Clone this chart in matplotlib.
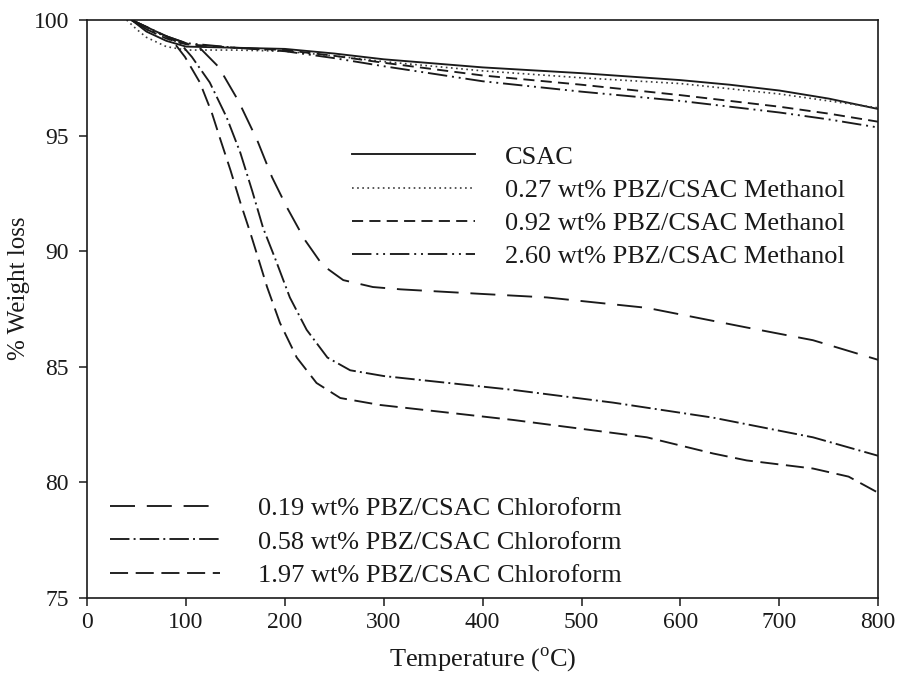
import matplotlib
matplotlib.use("Agg")
import matplotlib.pyplot as plt

plt.rcParams['font.family'] = ['Liberation Serif', 'DejaVu Serif']
plt.rcParams['mathtext.fontset'] = 'custom'
plt.rcParams['mathtext.rm'] = 'Liberation Serif'
plt.rcParams['lines.scale_dashes'] = False

# TGA curves, temperature (C) vs remaining weight (%)
t_csac = [45, 60, 80, 100, 150, 200, 250, 300, 400, 500, 600, 650, 700, 750, 800]
w_csac = [100, 99.5, 99.1, 98.85, 98.8, 98.75, 98.55, 98.3, 97.95, 97.7, 97.4, 97.2, 96.95, 96.6, 96.15]

t_m027 = [40, 50, 60, 80, 100, 150, 200, 250, 300, 400, 500, 600, 700, 750, 800]
w_m027 = [100, 99.6, 99.25, 98.85, 98.7, 98.7, 98.65, 98.45, 98.2, 97.8, 97.5, 97.25, 96.8, 96.5, 96.2]

t_m092 = [45, 60, 80, 100, 150, 200, 250, 300, 400, 500, 600, 700, 750, 800]
w_m092 = [100, 99.6, 99.2, 98.95, 98.8, 98.7, 98.45, 98.15, 97.6, 97.2, 96.75, 96.25, 95.95, 95.6]

t_m260 = [45, 60, 80, 100, 150, 200, 250, 300, 400, 500, 600, 700, 750, 800]
w_m260 = [100, 99.6, 99.3, 99.0, 98.8, 98.65, 98.35, 98.0, 97.35, 96.9, 96.5, 96.0, 95.7, 95.35]

t_c019 = [45, 60, 80, 100, 115, 124, 133, 153, 172, 187, 202, 220, 238, 259, 289, 317, 400, 465, 566, 667, 734, 800]
w_c019 = [100, 99.7, 99.3, 99.0, 98.75, 98.36, 97.97, 96.5, 94.8, 93.2, 91.9, 90.5, 89.4, 88.75, 88.45, 88.35, 88.15, 88.0, 87.55, 86.7, 86.15, 85.3]

t_c058 = [45, 60, 80, 95, 106, 124, 141, 155, 167, 178, 190, 205, 222, 243, 266, 300, 431, 532, 633, 734, 800]
w_c058 = [100, 99.7, 99.3, 98.95, 98.4, 97.3, 95.8, 94.25, 92.6, 91.0, 89.7, 88.0, 86.6, 85.4, 84.85, 84.6, 84.0, 83.45, 82.8, 81.95, 81.15]

t_c197 = [45, 60, 80, 90, 99, 114, 126, 135, 145, 155, 165, 173, 182, 195, 212, 232, 256, 296, 431, 566, 633, 667, 734, 770, 800]
w_c197 = [100, 99.7, 99.3, 98.9, 98.4, 97.3, 96.0, 94.8, 93.5, 92.1, 90.8, 89.7, 88.45, 86.9, 85.4, 84.3, 83.65, 83.35, 82.7, 81.95, 81.25, 80.95, 80.6, 80.25, 79.55]

labels_top = ['CSAC', '0.27 wt% PBZ/CSAC Methanol', '0.92 wt% PBZ/CSAC Methanol',
              '2.60 wt% PBZ/CSAC Methanol']
labels_bottom = ['0.19 wt% PBZ/CSAC Chloroform', '0.58 wt% PBZ/CSAC Chloroform',
                 '1.97 wt% PBZ/CSAC Chloroform']

x_ticks = [0, 100, 200, 300, 400, 500, 600, 700, 800]
y_ticks = [75, 80, 85, 90, 95, 100]

ink = '#1a1a1a'
lw = 1.35

fig = plt.figure(figsize=(8.98, 6.78), dpi=100)
ax = fig.add_axes([0.097, 0.118, 0.881, 0.8525])

h1, = ax.plot(t_csac, w_csac, color=ink, lw=lw, ls='-')
h2, = ax.plot(t_m027, w_m027, color='#3a3a3a', lw=1.2, ls=(0, (1.2, 2.5)))
h3, = ax.plot(t_m092, w_m092, color=ink, lw=lw, ls=(0, (8, 4.5)))
h4, = ax.plot(t_m260, w_m260, color=ink, lw=lw, ls=(0, (14, 3.5, 1.4, 3.5, 1.4, 3.5)))
h5, = ax.plot(t_c019, w_c019, color=ink, lw=lw, ls=(0, (18, 8.5)))
h6, = ax.plot(t_c058, w_c058, color=ink, lw=lw, ls=(0, (14, 3, 1.4, 3)))
h7, = ax.plot(t_c197, w_c197, color=ink, lw=lw, ls=(0, (13, 5.5)))

ax.set_xlim(0, 800)
ax.set_ylim(75, 100)
ax.set_xticks(x_ticks)
ax.set_yticks(y_ticks)
ax.tick_params(direction='out', length=6, width=1.1, labelsize=17, colors=ink)
ax.tick_params(axis='x', pad=4)
ax.tick_params(axis='y', pad=7)
for s in ax.spines.values():
    s.set_linewidth(1.2)
    s.set_color(ink)

ax.set_xlabel(r'Temperature ($^{\rm o}$C)', fontsize=19, color=ink, labelpad=9)
ax.set_ylabel('% Weight loss', fontsize=18, color=ink)
ax.yaxis.set_label_coords(-0.072, 0.536)

leg1 = fig.legend([h1, h2, h3, h4], labels_top, loc='upper left',
                  bbox_to_anchor=(0.392, 0.786), frameon=False, fontsize=19,
                  handlelength=4.66, handletextpad=1.14, labelspacing=0.37,
                  borderpad=0, borderaxespad=0)
leg2 = fig.legend([h5, h6, h7], labels_bottom, loc='upper left',
                  bbox_to_anchor=(0.1225, 0.267), frameon=False, fontsize=19,
                  handlelength=4.17, handletextpad=1.44, labelspacing=0.37,
                  borderpad=0, borderaxespad=0)
for leg in (leg1, leg2):
    for txt in leg.get_texts():
        txt.set_color(ink)

fig.savefig('out.png', dpi=100)
